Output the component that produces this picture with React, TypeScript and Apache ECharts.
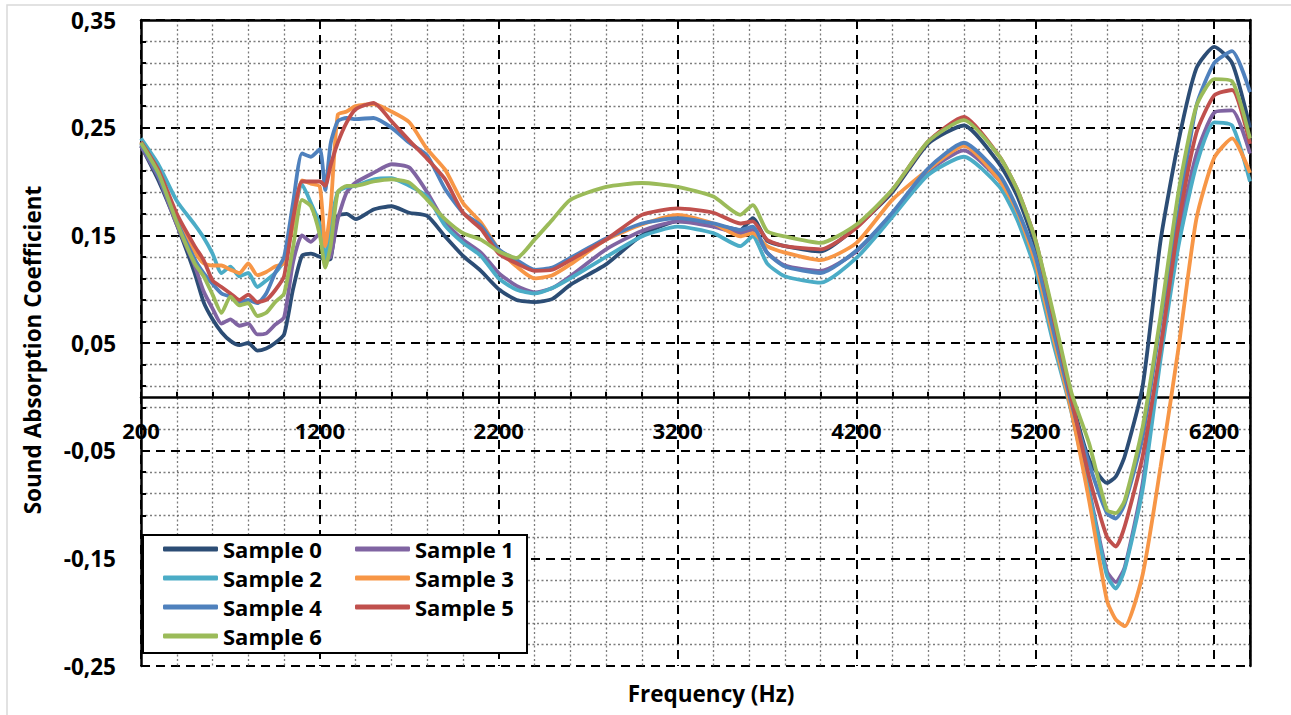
import React, { useEffect, useRef } from 'react';
import * as echarts from 'echarts';

const FREQ = [
  200, 300, 400, 500, 550, 600, 650, 700, 750, 800,
  850, 900, 950, 1000, 1050, 1100, 1150, 1200, 1230, 1260,
  1300, 1350, 1400, 1500, 1600, 1700, 1800, 1900, 2000, 2100,
  2200, 2300, 2400, 2500, 2600, 2800, 3000, 3200, 3400, 3550,
  3620, 3700, 3800, 4000, 4200, 4400, 4600, 4800, 5000, 5100,
  5200, 5300, 5400, 5500, 5600, 5650, 5700, 5800, 5900, 6000,
  6100, 6200, 6300, 6400,
];

const SAMPLE_0 = [
  0.233, 0.200, 0.160, 0.115, 0.088, 0.072, 0.060, 0.052, 0.048, 0.050,
  0.043, 0.045, 0.050, 0.058, 0.100, 0.131, 0.133, 0.130, 0.127, 0.128,
  0.168, 0.170, 0.165, 0.174, 0.177, 0.171, 0.168, 0.149, 0.131, 0.117,
  0.100, 0.090, 0.088, 0.091, 0.104, 0.123, 0.150, 0.163, 0.160, 0.155,
  0.166, 0.145, 0.140, 0.135, 0.158, 0.190, 0.235, 0.252, 0.216, 0.186,
  0.140, 0.074, 0.000, -0.058, -0.080, -0.074, -0.055, 0.010, 0.145, 0.237,
  0.305, 0.325, 0.310, 0.250,
];
const SAMPLE_1 = [
  0.233, 0.203, 0.160, 0.122, 0.098, 0.082, 0.068, 0.072, 0.066, 0.068,
  0.058, 0.059, 0.067, 0.074, 0.125, 0.150, 0.144, 0.152, 0.128, 0.130,
  0.165, 0.190, 0.199, 0.208, 0.216, 0.213, 0.190, 0.162, 0.146, 0.134,
  0.115, 0.103, 0.097, 0.101, 0.112, 0.137, 0.154, 0.163, 0.158, 0.152,
  0.155, 0.134, 0.122, 0.117, 0.135, 0.170, 0.209, 0.229, 0.201, 0.172,
  0.128, 0.060, -0.008, -0.086, -0.162, -0.172, -0.158, -0.080, 0.045, 0.150,
  0.225, 0.264, 0.266, 0.226,
];
const SAMPLE_2 = [
  0.240, 0.215, 0.182, 0.160, 0.148, 0.133, 0.115, 0.121, 0.112, 0.115,
  0.102, 0.108, 0.115, 0.127, 0.165, 0.197, 0.180, 0.160, 0.128, 0.160,
  0.190, 0.195, 0.196, 0.202, 0.203, 0.196, 0.186, 0.159, 0.143, 0.131,
  0.110, 0.0995, 0.096, 0.101, 0.110, 0.130, 0.149, 0.158, 0.152, 0.140,
  0.149, 0.124, 0.112, 0.106, 0.129, 0.167, 0.206, 0.223, 0.195, 0.164,
  0.118, 0.050, -0.013, -0.089, -0.166, -0.178, -0.160, -0.086, 0.035, 0.140,
  0.215, 0.255, 0.252, 0.200,
];
const SAMPLE_3 = [
  0.236, 0.208, 0.166, 0.135, 0.124, 0.122, 0.122, 0.118, 0.115, 0.124,
  0.113, 0.116, 0.121, 0.124, 0.160, 0.201, 0.198, 0.195, 0.140, 0.175,
  0.262, 0.265, 0.270, 0.272, 0.265, 0.255, 0.230, 0.211, 0.180, 0.162,
  0.137, 0.121, 0.110, 0.113, 0.123, 0.146, 0.160, 0.169, 0.161, 0.149,
  0.152, 0.140, 0.134, 0.127, 0.143, 0.183, 0.211, 0.233, 0.201, 0.172,
  0.125, 0.056, -0.012, -0.096, -0.189, -0.207, -0.213, -0.165, -0.065, 0.045,
  0.165, 0.222, 0.240, 0.208,
];
const SAMPLE_4 = [
  0.235, 0.205, 0.163, 0.128, 0.115, 0.105, 0.096, 0.093, 0.088, 0.090,
  0.087, 0.096, 0.115, 0.130, 0.180, 0.226, 0.223, 0.230, 0.192, 0.235,
  0.256, 0.259, 0.258, 0.259, 0.250, 0.236, 0.224, 0.193, 0.171, 0.159,
  0.137, 0.127, 0.118, 0.120, 0.129, 0.147, 0.161, 0.166, 0.161, 0.155,
  0.158, 0.134, 0.121, 0.115, 0.136, 0.171, 0.212, 0.236, 0.206, 0.174,
  0.131, 0.062, -0.005, -0.062, -0.108, -0.113, -0.099, -0.037, 0.070, 0.170,
  0.270, 0.310, 0.321, 0.283,
];
const SAMPLE_5 = [
  0.237, 0.210, 0.170, 0.140, 0.127, 0.108, 0.102, 0.096, 0.090, 0.095,
  0.088, 0.090, 0.099, 0.112, 0.165, 0.200, 0.200, 0.200, 0.196, 0.215,
  0.236, 0.255, 0.267, 0.273, 0.256, 0.238, 0.221, 0.202, 0.171, 0.156,
  0.133, 0.124, 0.117, 0.118, 0.127, 0.146, 0.169, 0.175, 0.171, 0.161,
  0.163, 0.146, 0.140, 0.137, 0.157, 0.192, 0.237, 0.260, 0.223, 0.192,
  0.146, 0.0745, 0.000, -0.074, -0.130, -0.139, -0.120, -0.055, 0.045, 0.160,
  0.245, 0.280, 0.285, 0.235,
];
const SAMPLE_6 = [
  0.236, 0.207, 0.162, 0.124, 0.112, 0.095, 0.078, 0.093, 0.085, 0.087,
  0.075, 0.078, 0.088, 0.096, 0.139, 0.183, 0.177, 0.150, 0.120, 0.140,
  0.190, 0.196, 0.196, 0.200, 0.202, 0.199, 0.183, 0.165, 0.152, 0.146,
  0.135, 0.129, 0.146, 0.1645, 0.183, 0.195, 0.1986, 0.195, 0.186, 0.169,
  0.178, 0.154, 0.149, 0.143, 0.160, 0.1923, 0.237, 0.257, 0.223, 0.192,
  0.146, 0.078, 0.005, -0.043, -0.105, -0.108, -0.096, -0.028, 0.075, 0.190,
  0.270, 0.295, 0.293, 0.240,
];

const SERIES_NAMES = ['Sample 0', 'Sample 1', 'Sample 2', 'Sample 3', 'Sample 4', 'Sample 5', 'Sample 6'];
const SERIES_VALUES = [SAMPLE_0, SAMPLE_1, SAMPLE_2, SAMPLE_3, SAMPLE_4, SAMPLE_5, SAMPLE_6];
const COLORS = ['#2C4D75', '#8064A2', '#4BACC6', '#F79646', '#4F81BD', '#C0504D', '#9BBB59'];

const X_MIN = 200;
const X_MAX = 6400;
const Y_MIN = -0.25;
const Y_MAX = 0.35;

const GRID_TOP = 20;
const GRID_BOTTOM = 49;
const CHART_H = 715;

const FONT = "'Open Sans', 'Noto Sans', 'DejaVu Sans', sans-serif";
const DOT = 'rgba(110,110,110,0.9)';
const NONE = 'rgba(0,0,0,0)';
const MINOR_COLORS = [NONE, DOT, DOT, DOT, DOT];

export default function App() {
  const ref = useRef<HTMLDivElement>(null);

  useEffect(() => {
    if (!ref.current) return;
    const chart = echarts.init(ref.current, null, { renderer: 'svg' });
    // offset that lifts the bottom x axis onto the y = 0 line
    const plotH = CHART_H - GRID_TOP - GRID_BOTTOM;
    const zeroOffset = -plotH * (0 - Y_MIN) / (Y_MAX - Y_MIN);
    const option: any = {
      animation: false,
      backgroundColor: '#ffffff',
      grid: { left: 141, top: GRID_TOP, right: 41, bottom: GRID_BOTTOM, containLabel: false },
      xAxis: [
        {
          type: 'value',
          min: X_MIN,
          max: X_MAX,
          interval: 200,
          position: 'bottom',
          offset: zeroOffset,
          axisLine: { show: true, onZero: false, lineStyle: { color: '#000', width: 2.5 } },
          axisTick: { show: true, inside: true, length: 5, lineStyle: { color: '#000', width: 2 } },
          axisLabel: {
            margin: 22,
            color: '#000',
            fontFamily: FONT,
            fontWeight: 'bold',
            fontSize: 22,
            formatter: (v: number) => ((v - 200) % 1000 === 0 && v < 6400 ? String(v) : ''),
          },
          splitLine: { show: true, lineStyle: { color: MINOR_COLORS, type: [2, 2.5], width: 1.3 } },
        },
        {
          type: 'value',
          min: X_MIN,
          max: X_MAX,
          interval: 1000,
          position: 'top',
          axisLine: { show: true, onZero: false, lineStyle: { color: '#000', width: 2.5 } },
          axisTick: { show: false },
          axisLabel: { show: false },
          splitLine: { show: true, lineStyle: { color: '#000', type: [9, 6], width: 2 } },
        },
      ],
      yAxis: [
        {
          type: 'value',
          min: Y_MIN,
          max: Y_MAX,
          interval: 0.02,
          position: 'left',
          axisLine: { show: true, onZero: false, lineStyle: { color: '#000', width: 2.5 } },
          axisTick: { show: true, inside: true, length: 5, lineStyle: { color: '#000', width: 2 } },
          axisLabel: {
            margin: 25,
            color: '#000',
            fontFamily: FONT,
            fontWeight: 'bold',
            fontSize: 22.5,
            formatter: (v: number) => {
              const k = (v - Y_MIN) / 0.1;
              return Math.abs(k - Math.round(k)) < 1e-6 ? v.toFixed(2).replace('.', ',') : '';
            },
          },
          splitLine: { show: true, lineStyle: { color: MINOR_COLORS, type: [2, 2.5], width: 1.3 } },
        },
        {
          type: 'value',
          min: Y_MIN,
          max: Y_MAX,
          interval: 0.1,
          position: 'right',
          axisLine: { show: true, onZero: false, lineStyle: { color: '#000', width: 2.5 } },
          axisTick: { show: false },
          axisLabel: { show: false },
          splitLine: { show: true, lineStyle: { color: '#000', type: [9, 6], width: 2 } },
        },
      ],
      legend: {
        data: SERIES_NAMES,
        left: 163,
        top: 538,
        width: 390,
        padding: 0,
        itemGap: 7,
        itemWidth: 55,
        itemHeight: 5,
        icon: 'roundRect',
        z: 6,
        textStyle: {
          fontFamily: FONT,
          fontWeight: 'bold',
          fontSize: 22,
          lineHeight: 22,
          width: 125,
          color: '#000',
        },
      },
      graphic: [
        {
          type: 'rect',
          silent: true,
          z: 0,
          shape: { x: 7, y: 5, width: 1300, height: 730 },
          style: { fill: 'none', stroke: '#d9d9d9', lineWidth: 1.5 },
        },
        {
          type: 'rect',
          silent: true,
          z: 5,
          shape: { x: 143, y: 535, width: 384, height: 118 },
          style: { fill: '#ffffff', stroke: '#000', lineWidth: 2 },
        },
        {
          type: 'text',
          silent: true,
          x: 32,
          y: 350,
          rotation: Math.PI / 2,
          style: {
            text: 'Sound Absorption Coefficient',
            fill: '#000',
            fontFamily: FONT,
            fontWeight: 'bold',
            fontSize: 22.5,
            align: 'center',
            verticalAlign: 'middle',
          },
        },
        {
          type: 'text',
          silent: true,
          x: 711,
          y: 693,
          style: {
            text: 'Frequency (Hz)',
            fill: '#000',
            fontFamily: FONT,
            fontWeight: 'bold',
            fontSize: 22.5,
            align: 'center',
            verticalAlign: 'middle',
          },
        },
      ],
      series: SERIES_NAMES.map((name, i) => ({
        name,
        type: 'line',
        xAxisIndex: 0,
        yAxisIndex: 0,
        data: FREQ.map((f, j) => [f, SERIES_VALUES[i][j]]),
        showSymbol: false,
        symbol: 'none',
        smooth: 0.2,
        z: 2,
        lineStyle: { width: 3.8, color: COLORS[i] },
        itemStyle: { color: COLORS[i] },
      })),
    };
    chart.setOption(option);
    return () => chart.dispose();
  }, []);

  return (
    <div
      ref={ref}
      style={{ position: 'absolute', left: 0, top: 0, width: 1291, height: 715, background: '#fff' }}
    />
  );
}
